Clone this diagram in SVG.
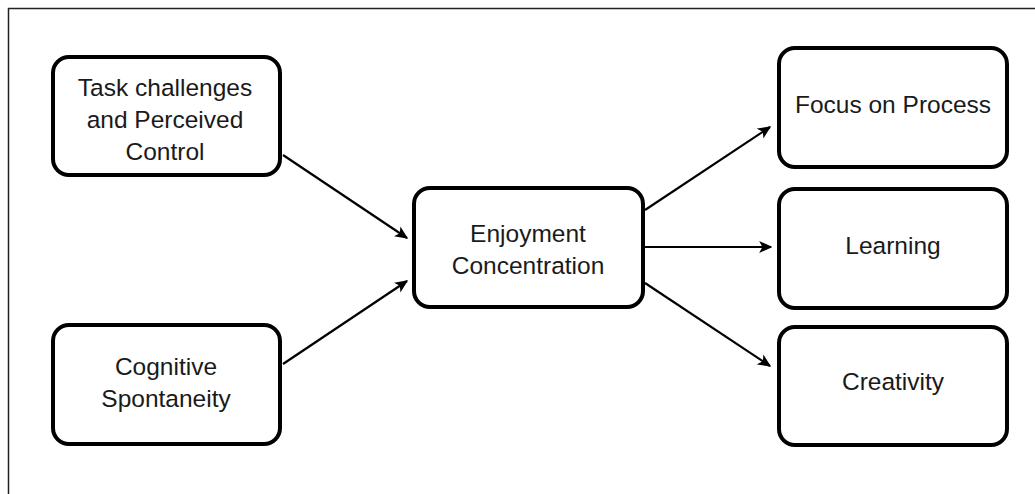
<svg xmlns="http://www.w3.org/2000/svg" width="1035" height="494" viewBox="0 0 1035 494">
  <style>
    .box { fill: #ffffff; stroke: #000000; stroke-width: 4; }
    .lbl { font-family: "Liberation Sans", Arial, sans-serif; font-size: 24.5px; fill: #1a1a1a; text-anchor: middle; }
    .edge { stroke: #000000; stroke-width: 2.2; fill: none; marker-end: url(#arrow); }
  </style>
  <defs>
    <marker id="arrow" viewBox="0 0 10 10" refX="9" refY="5" markerWidth="6" markerHeight="6" markerUnits="strokeWidth" orient="auto">
      <path d="M0,0.5 L10,5 L0,9.5 L2.5,5 Z" fill="#000000"/>
    </marker>
  </defs>

  <rect width="1035" height="494" fill="#ffffff"/>
  <!-- outer frame (open to the right and bottom) -->
  <path d="M8.5,494 V8.5 H1035" fill="none" stroke="#222222" stroke-width="1.5"/>

  <g id="connectors">
    <line class="edge" x1="283" y1="155" x2="407" y2="238"/>
    <line class="edge" x1="283" y1="364" x2="407" y2="281"/>
    <line class="edge" x1="645" y1="210" x2="770" y2="127"/>
    <line class="edge" x1="645" y1="247" x2="771" y2="247"/>
    <line class="edge" x1="645" y1="283" x2="770" y2="366"/>
  </g>

  <g id="task-challenges">
    <rect class="box" x="53" y="57" width="227" height="118" rx="16"/>
    <text class="lbl" x="165" y="96">Task challenges</text>
    <text class="lbl" x="165" y="128">and Perceived</text>
    <text class="lbl" x="165" y="160">Control</text>
  </g>

  <g id="cognitive-spontaneity">
    <rect class="box" x="53" y="325" width="227" height="119" rx="16"/>
    <text class="lbl" x="166" y="375">Cognitive</text>
    <text class="lbl" x="166" y="407">Spontaneity</text>
  </g>

  <g id="enjoyment-concentration">
    <rect class="box" x="414" y="188" width="229" height="119" rx="16"/>
    <text class="lbl" x="528" y="242">Enjoyment</text>
    <text class="lbl" x="528" y="274">Concentration</text>
  </g>

  <g id="focus-on-process">
    <rect class="box" x="779" y="48" width="228" height="119" rx="16"/>
    <text class="lbl" x="893" y="113">Focus on Process</text>
  </g>

  <g id="learning">
    <rect class="box" x="779" y="189" width="228" height="119" rx="16"/>
    <text class="lbl" x="893" y="254">Learning</text>
  </g>

  <g id="creativity">
    <rect class="box" x="779" y="327" width="228" height="118" rx="16"/>
    <text class="lbl" x="893" y="390">Creativity</text>
  </g>
</svg>
